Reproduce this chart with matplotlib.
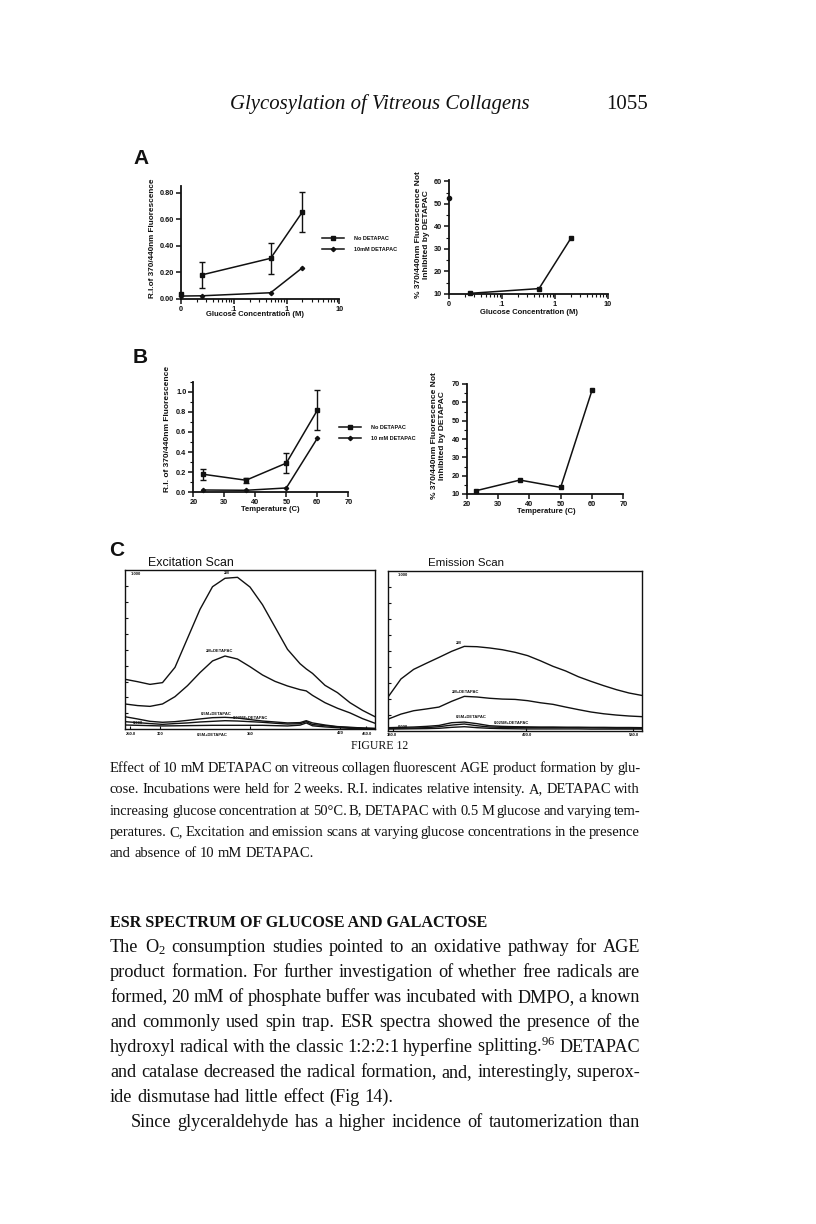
import matplotlib
matplotlib.use("Agg")
import matplotlib.pyplot as plt
from matplotlib.ticker import NullFormatter, LogLocator, MultipleLocator

# ---------------- data ----------------
glucose_M = [0.01, 0.025, 0.5, 2.0]          # 0 M is drawn at the left end (0.01) of the log axis
glucose_tick_vals = [0.01, 0.1, 1, 10]
glucose_tick_labels = ["0", ".1", "1", "10"]
ri_no_detapac_A = [0.035, 0.18, 0.305, 0.655]
ri_no_detapac_A_err = [0.0, 0.10, 0.115, 0.148]
ri_detapac_A = [0.02, 0.022, 0.045, 0.234]
pct_not_inhibited_A = [52.5, 10.3, 12.4, 34.8]

temperature_C = [23, 37, 50, 60]
ri_no_detapac_B = [0.18, 0.12, 0.29, 0.815]
ri_no_detapac_B_err = [0.055, 0.025, 0.10, 0.20]
ri_detapac_B = [0.023, 0.02, 0.043, 0.536]
pct_not_inhibited_B = [11.8, 17.6, 13.6, 66.5]

series_labels = ["No DETAPAC", "10mM DETAPAC"]
series_labels_B = ["No DETAPAC", "10 mM DETAPAC"]

exc_nm = [250, 260, 270, 280, 290, 300, 310, 320, 330, 340, 350, 360, 370, 380, 390, 395, 400, 410, 420, 430, 440, 450]
exc_2M = [0.314, 0.299, 0.282, 0.293, 0.389, 0.571, 0.753, 0.895, 0.948, 0.954, 0.893, 0.782, 0.642, 0.502, 0.412, 0.379, 0.351, 0.276, 0.230, 0.167, 0.119, 0.079]
exc_2M_det = [0.159, 0.149, 0.144, 0.159, 0.205, 0.274, 0.356, 0.429, 0.460, 0.441, 0.393, 0.341, 0.301, 0.272, 0.249, 0.241, 0.213, 0.167, 0.132, 0.103, 0.067, 0.038]
exc_05M_det = [0.079, 0.065, 0.050, 0.044, 0.048, 0.056, 0.065, 0.073, 0.075, 0.071, 0.061, 0.052, 0.046, 0.040, 0.042, 0.054, 0.040, 0.027, 0.017, 0.013, 0.008, 0.006]
exc_0025M_det = [0.048, 0.042, 0.036, 0.031, 0.036, 0.040, 0.046, 0.050, 0.054, 0.052, 0.048, 0.044, 0.038, 0.033, 0.035, 0.048, 0.030, 0.023, 0.015, 0.010, 0.008, 0.004]
exc_low = [0.027, 0.025, 0.023, 0.021, 0.022, 0.023, 0.024, 0.025, 0.025, 0.025, 0.025, 0.025, 0.023, 0.021, 0.026, 0.040, 0.022, 0.015, 0.010, 0.006, 0.004, 0.002]

em_nm = [380, 390, 400, 410, 420, 430, 440, 450, 460, 470, 480, 490, 500, 510, 520, 530, 540, 550, 560, 570, 580]
em_2M = [0.213, 0.324, 0.384, 0.422, 0.459, 0.497, 0.528, 0.526, 0.518, 0.507, 0.491, 0.470, 0.438, 0.403, 0.374, 0.338, 0.309, 0.282, 0.257, 0.236, 0.221]
em_2M_det = [0.073, 0.104, 0.125, 0.136, 0.148, 0.184, 0.215, 0.211, 0.203, 0.198, 0.196, 0.188, 0.175, 0.165, 0.148, 0.132, 0.117, 0.106, 0.098, 0.092, 0.088]
em_05M_det = [0.019, 0.021, 0.023, 0.027, 0.033, 0.050, 0.054, 0.044, 0.031, 0.027, 0.025, 0.024, 0.023, 0.023, 0.022, 0.022, 0.021, 0.021, 0.020, 0.020, 0.019]
em_0025M_det = [0.015, 0.016, 0.017, 0.019, 0.025, 0.035, 0.042, 0.031, 0.023, 0.021, 0.020, 0.019, 0.019, 0.019, 0.019, 0.018, 0.018, 0.017, 0.016, 0.016, 0.015]
em_low = [0.010, 0.011, 0.012, 0.013, 0.015, 0.021, 0.025, 0.019, 0.015, 0.013, 0.012, 0.011, 0.011, 0.011, 0.011, 0.011, 0.010, 0.010, 0.010, 0.010, 0.010]

header_title = "Glycosylation of Vitreous Collagens"
page_number = "1055"
figure_label = "FIGURE 12"
caption_lines = [
    "Effect of 10 mM DETAPAC on vitreous collagen fluorescent AGE product formation by glu-",
    "cose. Incubations were held for 2 weeks. R.I. indicates relative intensity. A, DETAPAC with",
    "increasing glucose concentration at 50°C. B, DETAPAC with 0.5 M glucose and varying tem-",
    "peratures. C, Excitation and emission scans at varying glucose concentrations in the presence",
    "and absence of 10 mM DETAPAC.",
]
section_heading = "ESR SPECTRUM OF GLUCOSE AND GALACTOSE"
body_lines = [
    "The O$_2$ consumption studies pointed to an oxidative pathway for AGE",
    "product formation.  For further investigation of whether free radicals are",
    "formed, 20 mM of phosphate buffer was incubated with DMPO, a known",
    "and commonly used spin trap. ESR spectra showed the presence of the",
    "hydroxyl radical with the classic 1:2:2:1 hyperfine splitting.$^{96}$  DETAPAC",
    "and catalase decreased the radical formation, and, interestingly, superox-",
    "ide dismutase had little effect (Fig 14).",
    "Since glyceraldehyde has a higher incidence of tautomerization than",
]

# ---------------- figure ----------------
plt.rcParams['font.family'] = ['Liberation Sans', 'DejaVu Sans']
plt.rcParams['mathtext.fontset'] = 'custom'
plt.rcParams['mathtext.rm'] = 'Liberation Serif'
plt.rcParams['mathtext.it'] = 'Liberation Serif:italic'
plt.rcParams['mathtext.bf'] = 'Liberation Serif:bold'
SERIF = ['Liberation Serif', 'DejaVu Serif']
INK = '#111111'

W, H = 816, 1224
fig = plt.figure(figsize=(8.16, 12.24), dpi=100)
fig.patch.set_facecolor('white')
R = fig.canvas.get_renderer()


def px_axes(x0, y0, x1, y1):
    return fig.add_axes([x0 / W, 1 - y1 / H, (x1 - x0) / W, (y1 - y0) / H])


def ftext(x, y, s, **kw):
    kw.setdefault('color', INK)
    return fig.text(x / W, 1 - y / H, s, **kw)


def text_w(s, size, **kw):
    t = fig.text(0, 0, s, fontsize=size, **kw)
    w = t.get_window_extent(renderer=R).width
    t.remove()
    return w


def fit_size(s, target, size0=10.0, **kw):
    return size0 * target / text_w(s, size0, **kw)


def style_xy(ax):
    for s in ['top', 'right']:
        ax.spines[s].set_visible(False)
    for s in ['left', 'bottom']:
        ax.spines[s].set_linewidth(1.3)
        ax.spines[s].set_color(INK)
    ax.tick_params(which='major', direction='out', length=3.5, width=1.1,
                   labelsize=5.3, pad=1.5, colors=INK)
    ax.tick_params(which='minor', direction='out', length=2, width=0.8, colors=INK)
    ax.set_facecolor('none')


def bold_ticks(ax):
    for lab in ax.get_xticklabels() + ax.get_yticklabels():
        lab.set_fontweight('bold')


LW = 1.1
lab_kw = dict(fontweight='bold', color=INK)

# ---------- Panel A, left ----------
axA1 = px_axes(181, 186.1, 339.3, 298.7)
style_xy(axA1)
axA1.set_xscale('log')
axA1.set_xlim(0.01, 10)
axA1.set_ylim(0, 0.85)
lA1, = axA1.plot(glucose_M[1:], ri_no_detapac_A[1:], color=INK, lw=LW, marker='s', ms=3.3, clip_on=False)
axA1.errorbar(glucose_M[1:], ri_no_detapac_A[1:], yerr=ri_no_detapac_A_err[1:], fmt='none',
              ecolor=INK, elinewidth=1.0, capsize=2.2, capthick=1.0, clip_on=False)
axA1.plot(glucose_M[:1], ri_no_detapac_A[:1], color=INK, ls='none', marker='s', ms=3.3, clip_on=False)
lA2, = axA1.plot(glucose_M, ri_detapac_A, color=INK, lw=LW, marker='D', ms=2.2, clip_on=False)
axA1.set_xticks(glucose_tick_vals, glucose_tick_labels)
axA1.xaxis.set_minor_locator(LogLocator(base=10, subs=range(2, 10)))
axA1.xaxis.set_minor_formatter(NullFormatter())
axA1.set_yticks([0, 0.2, 0.4, 0.6, 0.8], ["0.00", "0.20", "0.40", "0.60", "0.80"])
bold_ticks(axA1)

# ---------- Panel A, right ----------
axA2 = px_axes(449, 180.2, 608, 294)
style_xy(axA2)
axA2.set_xscale('log')
axA2.set_xlim(0.01, 10)
axA2.set_ylim(10, 60.5)
axA2.plot(glucose_M[1:], pct_not_inhibited_A[1:], color=INK, lw=LW, marker='s', ms=3.0, clip_on=False)
axA2.plot(glucose_M[:1], pct_not_inhibited_A[:1], color=INK, ls='none', marker='o', ms=3.0, clip_on=False)
axA2.set_xticks(glucose_tick_vals, glucose_tick_labels)
axA2.xaxis.set_minor_locator(LogLocator(base=10, subs=range(2, 10)))
axA2.xaxis.set_minor_formatter(NullFormatter())
axA2.set_yticks([10, 20, 30, 40, 50, 60])
axA2.yaxis.set_minor_locator(MultipleLocator(5))
bold_ticks(axA2)

# ---------- Panel B, left ----------
axB1 = px_axes(193.3, 381.6, 348.3, 492.3)
style_xy(axB1)
axB1.set_xlim(20, 70)
axB1.set_ylim(0, 1.1)
lB1, = axB1.plot(temperature_C, ri_no_detapac_B, color=INK, lw=LW, marker='s', ms=3.3, clip_on=False)
axB1.errorbar(temperature_C, ri_no_detapac_B, yerr=ri_no_detapac_B_err, fmt='none',
              ecolor=INK, elinewidth=1.0, capsize=2.2, capthick=1.0, clip_on=False)
lB2, = axB1.plot(temperature_C, ri_detapac_B, color=INK, lw=LW, marker='D', ms=2.2, clip_on=False)
axB1.set_xticks([20, 30, 40, 50, 60, 70])
axB1.set_yticks([0, 0.2, 0.4, 0.6, 0.8, 1.0], ["0.0", "0.2", "0.4", "0.6", "0.8", "1.0"])
axB1.yaxis.set_minor_locator(MultipleLocator(0.1))
bold_ticks(axB1)

# ---------- Panel B, right ----------
axB2 = px_axes(466.7, 384, 623.3, 494)
style_xy(axB2)
axB2.set_xlim(20, 70)
axB2.set_ylim(10, 70)
axB2.plot(temperature_C, pct_not_inhibited_B, color=INK, lw=LW, marker='s', ms=3.0, clip_on=False)
axB2.set_xticks([20, 30, 40, 50, 60, 70])
axB2.set_yticks([10, 20, 30, 40, 50, 60, 70])
axB2.yaxis.set_minor_locator(MultipleLocator(5))
bold_ticks(axB2)

# legends
for handles, labels, anchor in [([lA1, lA2], series_labels, (322, 236)),
                                ([lB1, lB2], series_labels_B, (339, 425))]:
    leg = fig.legend(handles, labels, loc='upper left',
                     bbox_to_anchor=(anchor[0] / W, 1 - anchor[1] / H),
                     frameon=False, fontsize=4.0, handlelength=4.0, handletextpad=1.8,
                     labelspacing=1.0, borderpad=0, borderaxespad=0, numpoints=1)
    for t in leg.get_texts():
        t.set_fontweight('bold')
        t.set_color(INK)

# axis labels (placed in page pixels)
xl = "Glucose Concentration (M)"
s_xl = fit_size(xl, 97, **lab_kw)
ftext(255.5, 315, xl, fontsize=s_xl, ha='center', va='center', **lab_kw)
ftext(529, 313, xl, fontsize=s_xl, ha='center', va='center', **lab_kw)
tl = "Temperature (C)"
ftext(270, 509.5, tl, fontsize=s_xl, ha='center', va='center', **lab_kw)
ftext(546, 511.5, tl, fontsize=s_xl, ha='center', va='center', **lab_kw)

yl1 = "R.I.of 370/440nm Fluorescence"
ftext(152, 238, yl1, fontsize=fit_size(yl1, 120, **lab_kw), rotation=90, ha='center', va='center', **lab_kw)
yl2 = "R.I. of 370/440nm Fluorescence"
ftext(167.5, 429, yl2, fontsize=fit_size(yl2, 124, **lab_kw), rotation=90, ha='center', va='center', **lab_kw)
yp = "% 370/440nm Fluorescence Not\nInhibited by DETAPAC"
s_yp = fit_size("% 370/440nm Fluorescence Not", 126, **lab_kw)
ftext(422.5, 235, yp, fontsize=s_yp, rotation=90, ha='center', va='center', multialignment='center',
      linespacing=1.15, **lab_kw)
ftext(438.5, 436, yp, fontsize=s_yp, rotation=90, ha='center', va='center', multialignment='center',
      linespacing=1.15, **lab_kw)

# panel letters
ftext(141, 158, "A", fontsize=15, fontweight='bold', ha='center', va='center')
ftext(140, 357, "B", fontsize=15, fontweight='bold', ha='center', va='center')
ftext(117, 550, "C", fontsize=15, fontweight='bold', ha='center', va='center')

# ---------- Panel C ----------
def style_box(ax):
    for s in ax.spines.values():
        s.set_linewidth(1.0)
        s.set_color(INK)
    ax.tick_params(which='both', direction='in', length=2.5, width=0.8, colors=INK,
                   labelleft=False, labelbottom=False)
    ax.set_yticks([i / 10 for i in range(1, 10)])
    ax.set_facecolor('none')


axC1 = px_axes(125, 570, 375, 729.3)
axC1.set_xlim(250, 450)
axC1.set_ylim(0, 1)
for ys in [exc_2M, exc_2M_det, exc_05M_det, exc_0025M_det, exc_low]:
    axC1.plot(exc_nm, ys, color=INK, lw=1.0)
style_box(axC1)
axC1.set_xticks([254, 278, 350, 422, 443])

axC2 = px_axes(388.3, 571, 641.7, 730.7)
axC2.set_xlim(380, 580)
axC2.set_ylim(0, 1)
for ys in [em_2M, em_2M_det, em_05M_det, em_0025M_det, em_low]:
    axC2.plot(em_nm, ys, color=INK, lw=1.0)
style_box(axC2)
axC2.set_xticks([384, 489, 573])

tit_kw = dict(color=INK)
ftext(148, 563, "Excitation Scan", fontsize=fit_size("Excitation Scan", 86, **tit_kw), ha='left', va='center', **tit_kw)
ftext(428, 563, "Emission Scan", fontsize=fit_size("Emission Scan", 76, **tit_kw), ha='left', va='center', **tit_kw)

tiny = dict(fontsize=3.0, fontweight='bold')
ftext(131, 574, "1.000", ha='left', va='center', **tiny)
ftext(226.7, 572.5, "2M", ha='center', va='center', **tiny)
ftext(220, 651, "2M+DETAPAC", ha='center', va='center', **tiny)
ftext(216.7, 714, "0.5M+DETAPAC", ha='center', va='center', **tiny)
ftext(250, 718, "0.025M+DETAPAC", ha='center', va='center', **tiny)
ftext(133, 723, "0.000", ha='left', va='center', **tiny)
ftext(131, 734, "250.0", ha='center', va='center', **tiny)
ftext(160, 734, "300", ha='center', va='center', **tiny)
ftext(212, 735, "0.5M+DETAPAC", ha='center', va='center', **tiny)
ftext(250, 734, "350", ha='center', va='center', **tiny)
ftext(340, 733.5, "420", ha='center', va='center', **tiny)
ftext(367, 734, "450.0", ha='center', va='center', **tiny)

ftext(398, 575, "1.000", ha='left', va='center', **tiny)
ftext(458.3, 642.5, "2M", ha='center', va='center', **tiny)
ftext(466, 692, "2M+DETAPAC", ha='center', va='center', **tiny)
ftext(471, 716.5, "0.5M+DETAPAC", ha='center', va='center', **tiny)
ftext(511, 722.5, "0.025M+DETAPAC", ha='center', va='center', **tiny)
ftext(398, 727, "0.000", ha='left', va='center', **tiny)
ftext(392, 734.5, "380.0", ha='center', va='center', **tiny)
ftext(527, 734.5, "490.0", ha='center', va='center', **tiny)
ftext(634, 734.5, "580.0", ha='center', va='center', **tiny)

# ---------------- page text ----------------
LM, RM = 110, 640

ftext(380, 109, header_title, fontsize=fit_size(header_title, 300, family=SERIF, style='italic'),
      family=SERIF, style='italic', ha='center', va='baseline')
ftext(648, 109, page_number, fontsize=15, family=SERIF, ha='right', va='baseline')

ftext(380, 749, figure_label, fontsize=8.5, family=SERIF, ha='center', va='baseline')


def set_line(text, x0, x1, ybase, size, justify=True, **kw):
    words = text.split()
    objs = [ftext(0, ybase, w, fontsize=size, ha='left', va='baseline', family=SERIF, **kw) for w in words]
    widths = [o.get_window_extent(renderer=R).width for o in objs]
    if justify and len(words) > 1:
        gap = (x1 - x0 - sum(widths)) / (len(words) - 1)
    else:
        gap = size * 100 / 72 * 0.25
    x = x0
    for o, w in zip(objs, widths):
        o.set_x(x / W)
        x += w + gap


def para_size(lines, width, min_space=0.17):
    # largest size at which every justified line fits with at least min_space em between words
    sizes = []
    for ln in lines:
        words = ln.split()
        wsum = sum(text_w(w, 10.0, family=SERIF) for w in words)
        sp = (len(words) - 1) * min_space * 10.0 * 100 / 72
        sizes.append(10.0 * width / (wsum + sp))
    return min(sizes)


cap_size = para_size(caption_lines[:4], RM - LM)
for i, ln in enumerate(caption_lines):
    set_line(ln, LM, RM, 772 + i * 21.3, cap_size, justify=(i < 4))

ftext(LM, 927, section_heading, fontsize=fit_size(section_heading, 378, family=SERIF, fontweight='bold'),
      family=SERIF, fontweight='bold', ha='left', va='baseline')

body_size = para_size([body_lines[i] for i in (0, 1, 2, 3, 4, 5, 7)], RM - LM, min_space=0.2)
for i, ln in enumerate(body_lines):
    x0 = LM + 21 if i == 7 else LM
    set_line(ln, x0, RM, 952 + i * 25.0, body_size, justify=(i != 6))

fig.savefig("out.png", dpi=100, facecolor='white')
